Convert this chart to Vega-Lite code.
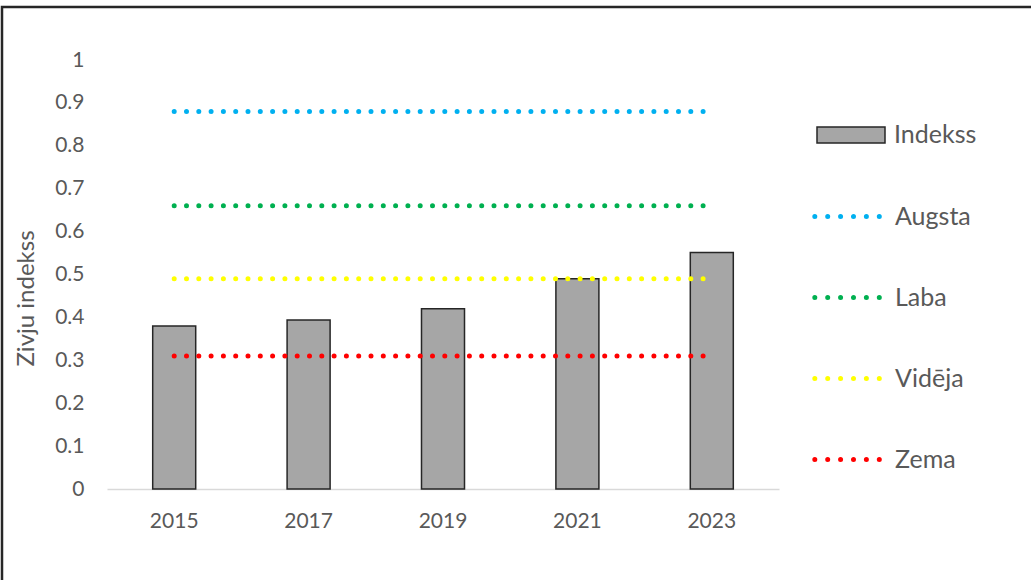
{
  "$schema": "https://vega.github.io/schema/vega-lite/v6.json",
  "width": 1029,
  "height": 573,
  "autosize": {"type": "none"},
  "padding": {"left": 2, "top": 7, "right": 0, "bottom": 0},
  "background": "white",
  "config": {
    "view": {"stroke": "#262626", "strokeWidth": 2.5, "strokeDash": [1029, 1602, 573]},
    "font": "Lato"
  },
  "datasets": {
    "bars": [
      {"year": "2015", "value": 0.38, "series": "Indekss"},
      {"year": "2017", "value": 0.394, "series": "Indekss"},
      {"year": "2019", "value": 0.42, "series": "Indekss"},
      {"year": "2021", "value": 0.49, "series": "Indekss"},
      {"year": "2023", "value": 0.551, "series": "Indekss"}
    ],
    "levels": [
      {"year": "2015", "value": 0.88, "series": "Augsta"},
      {"year": "2017", "value": 0.88, "series": "Augsta"},
      {"year": "2019", "value": 0.88, "series": "Augsta"},
      {"year": "2021", "value": 0.88, "series": "Augsta"},
      {"year": "2023", "value": 0.88, "series": "Augsta"},
      {"year": "2015", "value": 0.66, "series": "Laba"},
      {"year": "2017", "value": 0.66, "series": "Laba"},
      {"year": "2019", "value": 0.66, "series": "Laba"},
      {"year": "2021", "value": 0.66, "series": "Laba"},
      {"year": "2023", "value": 0.66, "series": "Laba"},
      {"year": "2015", "value": 0.49, "series": "Vidēja"},
      {"year": "2017", "value": 0.49, "series": "Vidēja"},
      {"year": "2019", "value": 0.49, "series": "Vidēja"},
      {"year": "2021", "value": 0.49, "series": "Vidēja"},
      {"year": "2023", "value": 0.49, "series": "Vidēja"},
      {"year": "2015", "value": 0.31, "series": "Zema"},
      {"year": "2017", "value": 0.31, "series": "Zema"},
      {"year": "2019", "value": 0.31, "series": "Zema"},
      {"year": "2021", "value": 0.31, "series": "Zema"},
      {"year": "2023", "value": 0.31, "series": "Zema"}
    ]
  },
  "encoding": {
    "x": {
      "field": "year",
      "type": "ordinal",
      "scale": {"range": [105, 777], "paddingInner": 0.68, "paddingOuter": 0.34},
      "axis": {
        "title": null,
        "offset": -91,
        "domainColor": "#d9d9d9",
        "domainWidth": 1.5,
        "ticks": false,
        "tickSize": 0,
        "labelPadding": 21,
        "labelAngle": 0,
        "labelFont": "Lato",
        "labelFontSize": 21,
        "labelColor": "#595959",
        "grid": false
      }
    },
    "y": {
      "field": "value",
      "type": "quantitative",
      "scale": {"domain": [0, 1], "range": [482, 53], "nice": false, "zero": true},
      "axis": {
        "title": "Zivju indekss",
        "offset": -82,
        "domain": false,
        "ticks": false,
        "tickSize": 0,
        "grid": false,
        "labelPadding": 0,
        "values": [0, 0.1, 0.2, 0.3, 0.4, 0.5, 0.6, 0.7, 0.8, 0.9, 1],
        "format": "~g",
        "labelFont": "Lato",
        "labelFontSize": 21,
        "labelColor": "#595959",
        "titleFont": "Lato",
        "titleFontSize": 24,
        "titleFontWeight": "normal",
        "titleColor": "#595959",
        "titleX": -58,
        "titleY": 291,
        "titleAngle": -90,
        "titleAlign": "center",
        "titleBaseline": "middle"
      }
    }
  },
  "layer": [
    {
      "data": {"name": "bars"},
      "mark": {"type": "bar", "stroke": "#262626", "strokeWidth": 1.5, "opacity": 1},
      "encoding": {
        "fill": {
          "field": "series",
          "type": "nominal",
          "scale": {"domain": ["Indekss"], "range": ["#a6a6a6"]},
          "legend": {
            "title": null,
            "orient": "none",
            "legendX": 814,
            "legendY": 93,
            "padding": 0,
            "symbolType": "M-1,-0.235H1V0.235H-1Z",
            "symbolSize": 4624,
            "symbolStrokeColor": "#262626",
            "symbolStrokeWidth": 1.5,
            "symbolOpacity": 1,
            "labelOffset": 8,
            "labelFont": "Lato",
            "labelFontSize": 25,
            "labelColor": "#595959"
          }
        }
      }
    },
    {
      "data": {"name": "levels"},
      "mark": {"type": "line", "strokeWidth": 5, "strokeDash": [0, 12.3], "strokeCap": "round", "opacity": 1},
      "encoding": {
        "stroke": {
          "field": "series",
          "type": "nominal",
          "scale": {
            "domain": ["Augsta", "Laba", "Vidēja", "Zema"],
            "range": ["#00b0f0", "#00b050", "#ffff00", "#ff0000"]
          },
          "legend": {
            "title": null,
            "orient": "none",
            "legendX": 814,
            "legendY": 174,
            "padding": 0,
            "symbolType": "M-1.116,0a0.0368,0.0368 0 1,0 0.0736,0a0.0368,0.0368 0 1,0 -0.0736,0M-0.737,0a0.0368,0.0368 0 1,0 0.0736,0a0.0368,0.0368 0 1,0 -0.0736,0M-0.358,0a0.0368,0.0368 0 1,0 0.0736,0a0.0368,0.0368 0 1,0 -0.0736,0M0.022,0a0.0368,0.0368 0 1,0 0.0736,0a0.0368,0.0368 0 1,0 -0.0736,0M0.401,0a0.0368,0.0368 0 1,0 0.0736,0a0.0368,0.0368 0 1,0 -0.0736,0M0.781,0a0.0368,0.0368 0 1,0 0.0736,0a0.0368,0.0368 0 1,0 -0.0736,0",
            "symbolSize": 4624,
            "symbolStrokeWidth": 2.5,
            "symbolOpacity": 1,
            "rowPadding": 32,
            "labelOffset": 8,
            "labelFont": "Lato",
            "labelFontSize": 25,
            "labelColor": "#595959"
          }
        }
      }
    }
  ]
}
